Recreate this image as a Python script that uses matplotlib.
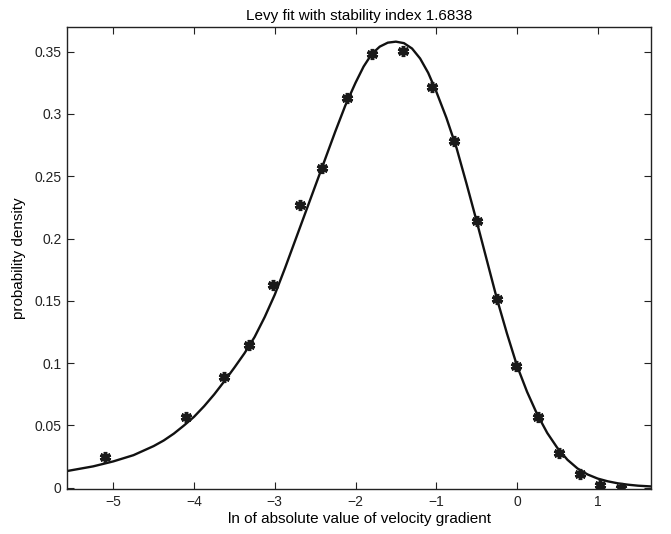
import matplotlib
matplotlib.use('Agg')
import matplotlib.pyplot as plt

plt.rcParams['font.family'] = ['Liberation Sans', 'DejaVu Sans']

# === 数据===
pts_x = [-5.10, -4.10, -3.63, -3.32, -3.02, -2.69, -2.41, -2.10, -1.80, -1.415,
         -1.05, -0.78, -0.50, -0.25, -0.01, 0.265, 0.52, 0.78, 1.03, 1.29]
pts_y = [0.0247, 0.0571, 0.0892, 0.1144, 0.1625, 0.2267, 0.2567, 0.3126, 0.3479, 0.3508,
         0.3219, 0.2781, 0.2141, 0.1513, 0.0978, 0.0571, 0.0279, 0.0108, 0.0020, 0.0001]

# 拟合曲线（按图读取的点）
fit_x = [-5.57, -5.25, -5.0, -4.75, -4.5, -4.375, -4.25, -4.125, -4.0, -3.875,
         -3.75, -3.625, -3.5, -3.375, -3.25, -3.125, -3.0, -2.875, -2.75, -2.625,
         -2.5, -2.375, -2.25, -2.125, -2.0, -1.9, -1.8, -1.7, -1.6, -1.5,
         -1.4, -1.3, -1.2, -1.1, -1.0, -0.875, -0.75, -0.625, -0.5, -0.375,
         -0.25, -0.125, 0.0, 0.125, 0.25, 0.375, 0.5, 0.625, 0.75, 0.875,
         1.0, 1.125, 1.25, 1.375, 1.5, 1.66]
fit_y = [0.0135, 0.0172, 0.0212, 0.0262, 0.0335, 0.038, 0.0435, 0.050, 0.057, 0.0655,
         0.075, 0.0855, 0.0965, 0.108, 0.121, 0.137, 0.155, 0.176, 0.198, 0.220,
         0.242, 0.264, 0.286, 0.307, 0.325, 0.338, 0.348, 0.354, 0.3572, 0.358,
         0.3568, 0.3525, 0.3445, 0.333, 0.318, 0.297, 0.273, 0.244, 0.214, 0.183,
         0.152, 0.124, 0.098, 0.077, 0.059, 0.044, 0.032, 0.0225, 0.0155, 0.0107,
         0.0074, 0.0052, 0.0036, 0.0025, 0.0017, 0.0011]

x_ticks = [-5, -4, -3, -2, -1, 0, 1]
y_ticks = [0, 0.05, 0.1, 0.15, 0.2, 0.25, 0.3, 0.35]
y_tick_labels = ['0', '0.05', '0.1', '0.15', '0.2', '0.25', '0.3', '0.35']

# === 绘图 ===
fig = plt.figure(figsize=(6.71, 5.34), dpi=100)
ax = fig.add_axes([0.1003, 0.0837, 0.8699, 0.8663])

ax.plot(fit_x, fit_y, color='#111111', lw=1.7, solid_joinstyle='round')
ax.plot(pts_x, pts_y, linestyle='none', marker=(6, 2, 0), markersize=8,
        markeredgewidth=2.5, color='#1a1a1a')

ax.set_xlim(-5.57, 1.66)
ax.set_ylim(-0.0012, 0.370)
ax.set_xticks(x_ticks)
ax.set_yticks(y_ticks)
ax.set_yticklabels(y_tick_labels)
ax.tick_params(direction='in', length=5, width=0.8, top=True, right=True,
               labelsize=10, pad=4, colors='#222222')
for s in ax.spines.values():
    s.set_linewidth(1.0)
    s.set_color('#222222')

ax.set_title('Levy fit with stability index 1.6838', fontsize=11, pad=5)
ax.set_xlabel('ln of absolute value of velocity gradient', fontsize=11, labelpad=2)
ax.set_ylabel('probability density', fontsize=11, labelpad=6)

fig.savefig('out.png', dpi=100)
